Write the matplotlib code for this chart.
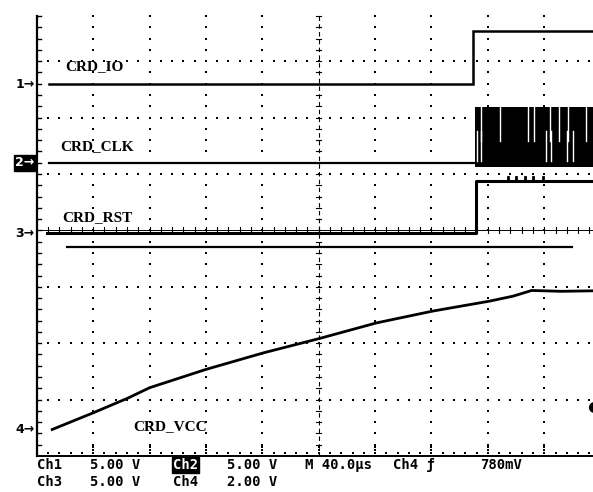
import numpy as np
import matplotlib.pyplot as plt

# Kanalinställningar: V/div och jordmarkörens läge (div från mitten)
ch_scale = {"1": 5.0, "2": 5.0, "3": 5.0, "4": 2.0}
ch_offset = {"1": 2.59, "2": 1.20, "3": -0.05, "4": -3.53}

# CRD_IO (tid i us, spänning i V)
io_t = [9, 309.5, 309.5, 400]
io_v = [0.0, 0.0, 4.7, 4.7]

# CRD_CLK: låg nivå, sedan en tät klockskur
clk_t = [9, 311]
clk_v = [0.0, 0.0]
clk_burst = [311, 400]
clk_high = 4.9
clk_gaps_upper = [315.1, 328.6, 348.4, 352.6, 364.0, 370.4, 376.8, 389.6]
clk_gaps_lower = [312.6, 315.1, 361.2, 364.7, 376.1, 380.4]

# CRD_RST
rst_t = [7, 311.5, 311.5, 400]
rst_v = [0.0, 0.0, 4.6, 4.6]
rst_glitch_t = [334, 340, 346, 352, 359]

# CRD_VCC
vcc_t = [11, 40, 65, 80, 120, 161, 200, 241, 281, 321, 338, 351, 372, 398]
vcc_v = [0.0, 0.59, 1.12, 1.48, 2.13, 2.72, 3.22, 3.78, 4.20, 4.55, 4.73, 4.93, 4.90, 4.92]

trig_level = 0.78   # V på Ch4
ref_t = [21.5, 380]
ref_div = -0.30

labels = ["CRD_IO", "CRD_CLK", "CRD_RST", "CRD_VCC"]
label_pos = [(20.1, 2.90), (16.5, 1.49), (17.9, 0.23), (68.3, -3.48)]

row1 = [("Ch1", 0.2), ("5.00 V", 37.8), ("Ch2", 96.7), ("5.00 V", 135.0),
        ("M 40.0\u00b5s", 190.3), ("Ch4 \u0192", 252.7), ("780mV", 314.4)]
row2 = [("Ch3", 0.2), ("5.00 V", 37.8), ("Ch4", 96.7), ("2.00 V", 135.0)]


def div(ch, v):
    return ch_offset[ch] + np.asarray(v, dtype=float) / ch_scale[ch]


PX = 40 / 56.4     # us per pixel
PY = 1 / 56.4      # div per pixel

fig = plt.figure(figsize=(5.93, 4.92), dpi=100)
ax = fig.add_axes([36.7 / 593, 36 / 492, 564 / 593, 451.2 / 492])
ax.set_xlim(0, 400)
ax.set_ylim(-4, 4)
ax.axis("off")

k = "black"
minor_x = np.arange(1, 50) * 8.0
minor_y = np.arange(-19, 20) * 0.2

# rutnät (prickar)
for yy in [-3, -2, -1, 1, 2, 3]:
    ax.scatter(minor_x, np.full_like(minor_x, yy), s=1.6, marker="s", c=k, linewidths=0)
for xx in [40, 80, 120, 160, 240, 280, 320, 360]:
    ax.scatter(np.full_like(minor_y, xx), minor_y, s=1.6, marker="s", c=k, linewidths=0)
ax.scatter(minor_x, np.full_like(minor_x, -4 + 3 * PY), s=1.6, marker="s", c=k, linewidths=0)
for xx in [40, 80, 120, 160, 200, 240, 280, 320, 360]:
    ax.scatter([xx, xx], [-4 + 6 * PY, -4 + 9 * PY], s=1.6, marker="s", c=k, linewidths=0)

# mittkors
ax.plot([200, 200], [-4, 3.81], color=k, lw=0.8, ls=(0, (4, 3)))
for yy in minor_y:
    ax.plot([200 - 2.5 * PX, 200 + 2.5 * PX], [yy, yy], color=k, lw=0.8)
ax.plot([0, 400], [0, 0], color=k, lw=0.7)
for xx in minor_x:
    ax.plot([xx, xx], [-3 * PY, 3 * PY], color=k, lw=0.8)

# vänster och nedre axel
ax.plot([0, 0], [-4, 3.81], color=k, lw=1.6, clip_on=False)
for yy in minor_y:
    ax.plot([0, 4 * PX], [yy, yy], color=k, lw=1.0)
ax.plot([0, 400], [-4, -4], color=k, lw=1.4, clip_on=False)

# kurvor
ax.plot(io_t, div("1", io_v), color=k, lw=1.8, solid_joinstyle="miter")
ax.plot(clk_t, div("2", clk_v), color=k, lw=1.6)
ax.fill_between(clk_burst, div("2", 0) - 4 * PY, div("2", clk_high), color=k, lw=0)
mid2 = div("2", clk_high / 2)
for t in clk_gaps_upper:
    ax.plot([t, t], [mid2 - 6 * PY, div("2", clk_high)], color="white", lw=1.0)
for t in clk_gaps_lower:
    ax.plot([t, t], [div("2", 0) + 2 * PY, mid2 + 4 * PY], color="white", lw=1.0)
ax.plot(rst_t, div("3", rst_v), color=k, lw=2.2)
for t in rst_glitch_t:
    ax.plot([t, t], [div("3", 4.6), div("3", 4.6) + 4 * PY], color=k, lw=2.0)
ax.plot(ref_t, [ref_div, ref_div], color=k, lw=1.6)
ax.plot(vcc_t, div("4", vcc_v), color=k, lw=2.0)

# triggernivå
ax.plot([395.5], [div("4", trig_level)], "o", color=k, ms=7, clip_on=False)

# kanalmarkörer
for ch in ["1", "2", "3", "4"]:
    kw = dict(color=k)
    if ch == "2":
        kw = dict(color="white", bbox=dict(facecolor=k, edgecolor=k, pad=1.0))
    ax.text(-1.5, ch_offset[ch], ch + "\u2192", ha="right", va="center",
            fontsize=9, fontweight="bold", family="DejaVu Sans", clip_on=False, **kw)

for name, (tx, ty) in zip(labels, label_pos):
    ax.text(tx, ty, name, ha="left", va="center", fontsize=11, fontweight="bold",
            family="Liberation Serif", color=k)

for row, yy in [(row1, -4.153), (row2, -4.454)]:
    for s, tx in row:
        kw = dict(color=k)
        if s == "Ch2":
            kw = dict(color="white", bbox=dict(facecolor=k, edgecolor=k, pad=0.8))
        ax.text(tx, yy, s, ha="left", va="center", fontsize=10, fontweight="bold",
                family="DejaVu Sans Mono", clip_on=False, **kw)

fig.savefig("out.png", dpi=100)
